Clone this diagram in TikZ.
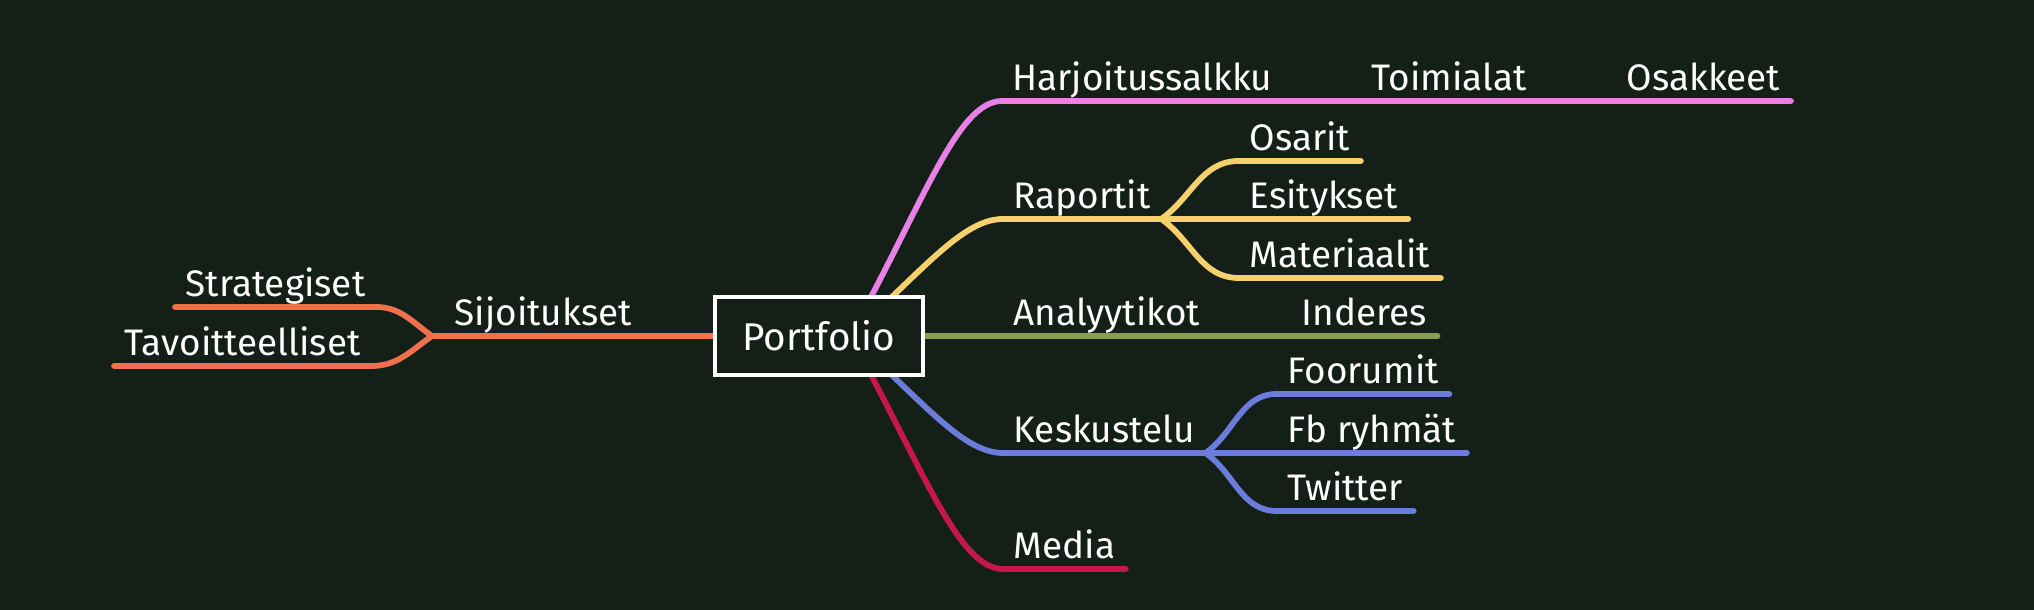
\documentclass[tikz,border=0pt]{standalone}
\usepackage{fontspec}
\setmainfont{Fira Sans}
\usepackage{tikz}
\definecolor{bgc}{RGB}{19,31,23}
\definecolor{pinkc}{RGB}{232,128,232}
\definecolor{yellowc}{RGB}{245,208,108}
\definecolor{olivec}{RGB}{138,155,82}
\definecolor{bluec}{RGB}{108,124,218}
\definecolor{redc}{RGB}{198,22,78}
\definecolor{orangec}{RGB}{240,112,76}

\begin{document}
\begin{tikzpicture}[
		topic/.style={anchor=south west, text=white, font=\fontsize{10.5}{12}\selectfont, inner xsep=0.1cm, inner ysep=0.1cm, text depth=0pt},
		branch/.style={line width=1.65pt, line cap=round},
		rootbox/.style={draw=white, line width=0.9pt, fill=bgc, minimum width=2.08cm, minimum height=0.78cm, text=white, font=\fontsize{11}{13}\selectfont}
	]
		\fill[bgc] (0,0) rectangle (20.34,-6.10);

		\node[topic] (harj) at (10.02,-1.01) {Harjoitussalkku};
		\node[topic] (toim) at (13.61,-1.01) {Toimialat};
		\node[topic] (osak) at (16.16,-1.01) {Osakkeet};
		\node[topic] (rap) at (10.03,-2.19) {Raportit};
		\node[topic] (osar) at (12.39,-1.61) {Osarit};
		\node[topic] (esit) at (12.39,-2.19) {Esitykset};
		\node[topic] (mate) at (12.39,-2.78) {Materiaalit};
		\node[topic] (anal) at (10.03,-3.36) {Analyytikot};
		\node[topic] (inde) at (12.91,-3.36) {Inderes};
		\node[topic] (kesk) at (10.03,-4.53) {Keskustelu};
		\node[topic] (foor) at (12.77,-3.94) {Foorumit};
		\node[topic] (fbry) at (12.77,-4.53) {Fb ryhmät};
		\node[topic] (twit) at (12.77,-5.11) {Twitter};
		\node[topic] (medi) at (10.03,-5.69) {Media};
		\node[topic] (sijo) at (4.44,-3.36) {Sijoitukset};
		\node[topic] (stra) at (1.75,-3.07) {Strategiset};
		\node[topic] (tavo) at (1.14,-3.66) {Tavoitteelliset};

		\coordinate (hub) at (8.5,-3.36);
		\coordinate (sijJ) at (4.32,-3.36);

		\draw[branch, pinkc] (hub) .. controls +(61:1.5) and +(-0.45,0) .. (harj.south west) -- (harj.south east) -- (toim.south east) -- (osak.south east);
		\draw[branch, yellowc] (hub) .. controls +(42:1.0) and +(-0.4,0) .. (rap.south west) -- (rap.south east);
		\draw[branch, yellowc] (rap.south east) to[out=35,in=180] (osar.south west) -- (osar.south east);
		\draw[branch, yellowc] (rap.south east) -- (esit.south east);
		\draw[branch, yellowc] (rap.south east) to[out=-35,in=180] (mate.south west) -- (mate.south east);
		\draw[branch, olivec] (hub) -- (anal.south east) -- (inde.south east);
		\draw[branch, bluec] (hub) .. controls +(-42:1.0) and +(-0.4,0) .. (kesk.south west) -- (kesk.south east);
		\draw[branch, bluec] (kesk.south east) to[out=35,in=180] (foor.south west) -- (foor.south east);
		\draw[branch, bluec] (kesk.south east) -- (fbry.south east);
		\draw[branch, bluec] (kesk.south east) to[out=-35,in=180] (twit.south west) -- (twit.south east);
		\draw[branch, redc] (hub) .. controls +(-61:1.5) and +(-0.45,0) .. (medi.south west) -- (medi.south east);
		\draw[branch, orangec] (hub) -- (sijJ);
		\draw[branch, orangec] (sijJ) to[out=145,in=0] (stra.south east) -- (stra.south west);
		\draw[branch, orangec] (sijJ) to[out=-145,in=0] (tavo.south east) -- (tavo.south west);

		\node[rootbox] (root) at (8.19,-3.36) {Portfolio};
	\end{tikzpicture}
\end{document}
